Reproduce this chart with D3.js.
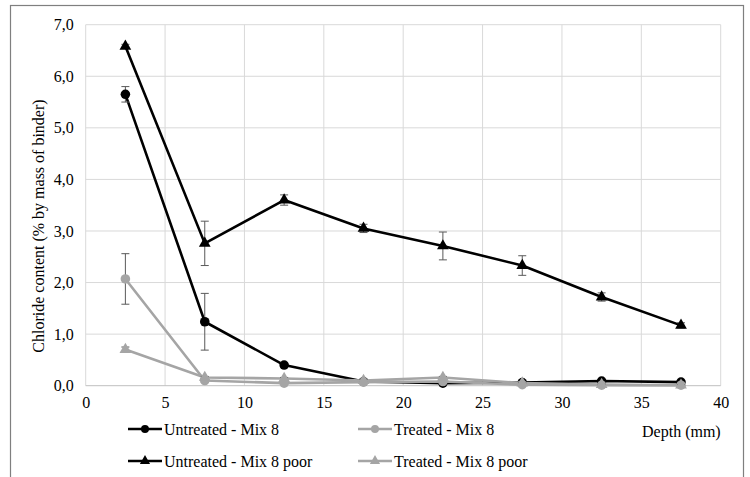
<!DOCTYPE html>
<html>
<head>
<meta charset="utf-8">
<script src="https://cdn.jsdelivr.net/npm/d3@7"></script>
<style>
  html, body { margin: 0; padding: 0; background: #fff; }
  svg { display: block; }
</style>
</head>
<body>
<svg id="chart" width="750" height="477"></svg>
<script>
// Depth of each sampled slice (mm)
const depths = [2.5, 7.5, 12.5, 17.5, 22.5, 27.5, 32.5, 37.5];

// Chloride content (% by mass of binder) and standard deviation per series
const untreatedMix8      = [5.65, 1.24, 0.40, 0.08, 0.05, 0.06, 0.09, 0.07];
const untreatedMix8Err   = [0.15, 0.55, 0.04, 0.02, 0.02, 0.02, 0.02, 0.02];
const treatedMix8        = [2.07, 0.10, 0.05, 0.07, 0.08, 0.02, 0.01, 0.01];
const treatedMix8Err     = [0.49, 0.03, 0.02, 0.02, 0.02, 0.01, 0.01, 0.01];
const untreatedPoor      = [6.58, 2.76, 3.60, 3.05, 2.71, 2.33, 1.72, 1.17];
const untreatedPoorErr   = [0.04, 0.43, 0.10, 0.08, 0.27, 0.19, 0.08, 0.05];
const treatedPoor        = [0.70, 0.16, 0.14, 0.10, 0.16, 0.05, 0.02, 0.01];
const treatedPoorErr     = [0.05, 0.02, 0.02, 0.02, 0.02, 0.01, 0.01, 0.01];

const seriesNames = ["Untreated - Mix 8", "Treated - Mix 8", "Untreated - Mix 8 poor", "Treated - Mix 8 poor"];
const xTicks = [0, 5, 10, 15, 20, 25, 30, 35, 40];
const yTicks = [0, 1, 2, 3, 4, 5, 6, 7];

const FONT = "Liberation Serif";

const series = [
  { name: seriesNames[0], values: untreatedMix8, err: untreatedMix8Err, color: "#000000", symbol: d3.symbolCircle },
  { name: seriesNames[1], values: treatedMix8,   err: treatedMix8Err,   color: "#a5a5a5", symbol: d3.symbolCircle },
  { name: seriesNames[2], values: untreatedPoor, err: untreatedPoorErr, color: "#000000", symbol: d3.symbolTriangle },
  { name: seriesNames[3], values: treatedPoor,   err: treatedPoorErr,   color: "#a5a5a5", symbol: d3.symbolTriangle }
];

const svg = d3.select("#chart");

// outer chart frame
svg.append("rect")
  .attr("x", 10.5).attr("y", 5.5)
  .attr("width", 733).attr("height", 480)
  .attr("fill", "none").attr("stroke", "#7f7f7f").attr("stroke-width", 1.2);

const plot = { left: 85.7, right: 720.7, top: 24.7, bottom: 385.7 };

const x = d3.scaleLinear().domain([0, 40]).range([plot.left, plot.right]);
const y = d3.scaleLinear().domain([0, 7]).range([plot.bottom, plot.top]);

// gridlines
const grid = svg.append("g");
grid.selectAll(".gx").data(xTicks).join("line")
  .attr("x1", d => x(d)).attr("x2", d => x(d))
  .attr("y1", plot.top).attr("y2", plot.bottom)
  .attr("stroke", "#d9d9d9").attr("stroke-width", 1);
grid.selectAll(".gy").data(yTicks).join("line")
  .attr("x1", plot.left).attr("x2", plot.right)
  .attr("y1", d => y(d)).attr("y2", d => y(d))
  .attr("stroke", d => d === 0 ? "#bfbfbf" : "#d9d9d9").attr("stroke-width", 1);

// axes (labels only; lines drawn by the grid)
const fmt = d => d.toFixed(1).replace(".", ",");
const yAxis = svg.append("g")
  .attr("transform", `translate(${plot.left},0)`)
  .call(d3.axisLeft(y).tickValues(yTicks).tickFormat(fmt).tickSize(0).tickPadding(12));
yAxis.attr("font-family", FONT).attr("font-size", 16);
yAxis.select(".domain").remove();

const xAxis = svg.append("g")
  .attr("transform", `translate(0,${plot.bottom})`)
  .call(d3.axisBottom(x).tickValues(xTicks).tickFormat(d3.format("d")).tickSize(0).tickPadding(11));
xAxis.attr("font-family", FONT).attr("font-size", 16);
xAxis.select(".domain").remove();

// axis titles
svg.append("text")
  .attr("transform", "translate(44,226) rotate(-90)")
  .attr("text-anchor", "middle")
  .attr("font-family", FONT).attr("font-size", 16)
  .text("Chloride content (% by mass of binder)");

svg.append("text")
  .attr("x", plot.right).attr("y", 437)
  .attr("text-anchor", "end")
  .attr("font-family", FONT).attr("font-size", 16)
  .text("Depth (mm)");

// series: lines, error bars, markers
const line = d3.line().x(d => x(d[0])).y(d => y(d[1]));

series.forEach(s => {
  const pts = depths.map((d, i) => [d, s.values[i], s.err[i]]);
  const g = svg.append("g");

  g.append("path")
    .datum(pts)
    .attr("d", line)
    .attr("fill", "none")
    .attr("stroke", s.color)
    .attr("stroke-width", 2.6)
    .attr("stroke-linejoin", "round");

  const eb = g.append("g").attr("stroke", "#595959").attr("stroke-width", 1);
  pts.forEach(p => {
    const xc = x(p[0]), y1 = y(p[1] + p[2]), y2 = y(p[1] - p[2]);
    eb.append("line").attr("x1", xc).attr("x2", xc).attr("y1", y1).attr("y2", y2);
    eb.append("line").attr("x1", xc - 4).attr("x2", xc + 4).attr("y1", y1).attr("y2", y1);
    eb.append("line").attr("x1", xc - 4).attr("x2", xc + 4).attr("y1", y2).attr("y2", y2);
  });

  g.selectAll("path.mk").data(pts).join("path")
    .attr("class", "mk")
    .attr("d", d3.symbol().type(s.symbol).size(s.symbol === d3.symbolCircle ? 72 : 60))
    .attr("transform", d => `translate(${x(d[0])},${y(d[1])})`)
    .attr("fill", s.color);
});

// legend
const legendPos = [
  { lx: 128, ly: 429 }, { lx: 358, ly: 429 },
  { lx: 128, ly: 461 }, { lx: 358, ly: 461 }
];
series.forEach((s, i) => {
  const p = legendPos[i];
  const g = svg.append("g").attr("transform", `translate(${p.lx},${p.ly})`);
  g.append("line").attr("x1", 0).attr("x2", 34).attr("y1", 0).attr("y2", 0)
    .attr("stroke", s.color).attr("stroke-width", 2.6);
  g.append("path")
    .attr("d", d3.symbol().type(s.symbol).size(s.symbol === d3.symbolCircle ? 50 : 45))
    .attr("transform", "translate(17,0)")
    .attr("fill", s.color);
  g.append("text").attr("x", 36).attr("y", 5.5)
    .attr("font-family", FONT).attr("font-size", 16)
    .text(s.name);
});
</script>
</body>
</html>
